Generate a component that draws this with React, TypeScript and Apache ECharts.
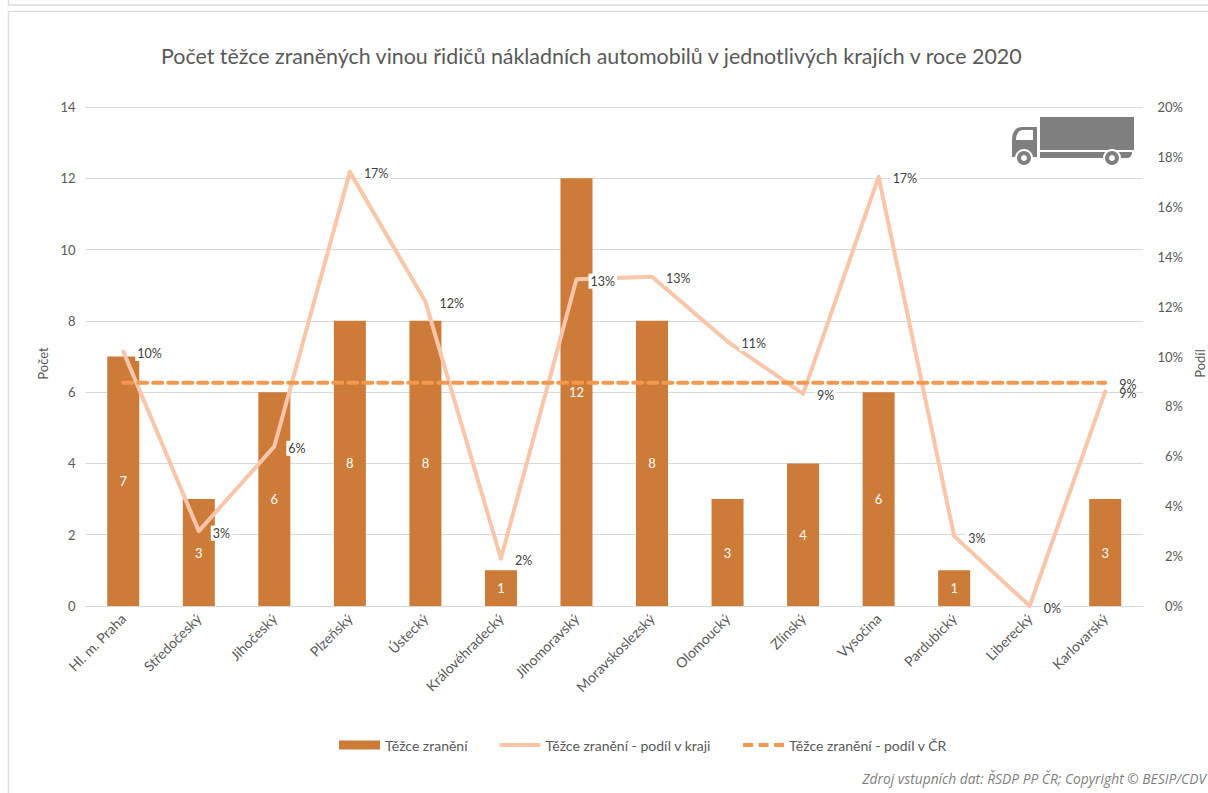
import React, { useEffect, useRef } from "react";
import * as echarts from "echarts";

const titleText = "Počet těžce zraněných vinou řidičů nákladních automobilů v jednotlivých krajích v roce 2020";
const sourceText = "Zdroj vstupních dat: ŘSDP PP ČR; Copyright © BESIP/CDV";
const categories = ["Hl. m. Praha", "Středočeský", "Jihočeský", "Plzeňský", "Ústecký", "Královéhradecký", "Jihomoravský", "Moravskoslezský", "Olomoucký", "Zlínský", "Vysočina", "Pardubický", "Liberecký", "Karlovarský"];
const injuries = [7, 3, 6, 8, 8, 1, 12, 8, 3, 4, 6, 1, 0, 3];
const regionShare = [10.2, 3.0, 6.4, 17.4, 12.2, 1.9, 13.1, 13.2, 10.6, 8.5, 17.2, 2.8, 0, 8.6];
const nationalShare = [8.95, 8.95, 8.95, 8.95, 8.95, 8.95, 8.95, 8.95, 8.95, 8.95, 8.95, 8.95, 8.95, 8.95];
const seriesNames = ["Těžce zranění", "Těžce zranění - podíl v kraji", "Těžce zranění - podíl v ČR"];

const FONT = "Lato";
const truckPath =
  "M28 0H122V33H28Z M0 38V24C0 16 3 10 10 10H25V40H0Z M4 23H21V13H11C7 13 4 17 4 23Z " +
  "M28 35H100V41H28Z M106 35H120C120 39 118 41 114 41H106Z";
echarts.graphic.registerShape("truckIcon", echarts.graphic.extendPath(truckPath, {}) as any);

const solidIcon = "path://M0 0L0.01 0ZM41 9L41.01 9ZM0 2.5H41V6.5H0Z";
const dashedIcon = "path://M0 0L0.01 0ZM41 9L41.01 9ZM0 2.5H10V6.5H0ZM15.5 2.5H25.5V6.5H15.5ZM31 2.5H41V6.5H31Z";

export default function App() {
  const ref = useRef<HTMLDivElement>(null);
  useEffect(() => {
    const chart = echarts.init(ref.current!, undefined, { renderer: "svg" });
    const axisText = { color: "#595959", fontFamily: FONT, fontSize: 13 };
    const wheel = (cx: number) => [
      { type: "circle", shape: { cx, cy: 41, r: 9 }, style: { fill: "#fff" } },
      { type: "circle", shape: { cx, cy: 41, r: 7 }, style: { fill: "#7F7F7F" } },
      { type: "circle", shape: { cx, cy: 41, r: 3 }, style: { fill: "#fff" } },
    ];
    chart.setOption({
      animation: false,
      backgroundColor: "#fff",
      textStyle: { fontFamily: FONT },
      title: {
        text: titleText,
        left: 156,
        top: 40,
        textStyle: { fontFamily: FONT, fontSize: 21.4, fontWeight: "normal", color: "#595959" },
      },
      legend: {
        left: 334,
        top: 733,
        itemWidth: 41,
        itemHeight: 9,
        itemGap: 32,
        itemStyle: { borderWidth: 0 },
        textStyle: { fontFamily: FONT, fontSize: 14, color: "#595959" },
        data: [
          { name: seriesNames[0], icon: "rect" },
          { name: seriesNames[1], icon: solidIcon },
          { name: seriesNames[2], icon: dashedIcon },
        ],
      },
      grid: { left: 85.5, right: 65, top: 107, bottom: 187, outerBoundsMode: "none" },
      xAxis: {
        type: "category",
        data: categories,
        axisTick: { show: false },
        axisLine: { lineStyle: { color: "#D9D9D9" } },
        axisLabel: { ...axisText, rotate: 45, fontSize: 14, margin: 10, interval: 0 },
      },
      yAxis: [
        {
          type: "value",
          min: 0,
          max: 14,
          interval: 2,
          name: "Počet",
          nameLocation: "middle",
          nameGap: 36,
          nameTextStyle: { ...axisText, padding: [0, 14, 0, 0] },
          axisLine: { show: false },
          axisTick: { show: false },
          axisLabel: { ...axisText, margin: 10 },
          splitLine: { lineStyle: { color: "#D9D9D9" } },
        },
        {
          type: "value",
          min: 0,
          max: 20,
          interval: 2,
          name: "Podíl",
          nameLocation: "middle",
          nameGap: 49,
          nameTextStyle: { ...axisText, padding: [0, 14, 0, 0] },
          axisLine: { show: false },
          axisTick: { show: false },
          axisLabel: { ...axisText, margin: 40, align: "right", formatter: "{value}%" },
          splitLine: { show: false },
        },
      ],
      series: [
        {
          name: seriesNames[0],
          type: "bar",
          data: injuries,
          barWidth: 32,
          itemStyle: { color: "#CD7B38" },
          label: {
            show: true,
            position: "inside",
            color: "#fff",
            fontFamily: FONT,
            fontSize: 13,
            formatter: (p: any) => (p.value > 0 ? String(p.value) : ""),
          },
        },
        {
          name: seriesNames[1],
          type: "line",
          yAxisIndex: 1,
          data: regionShare.map((value, i) =>
            i === regionShare.length - 1 ? { value, label: { backgroundColor: "transparent" } } : value
          ),
          showSymbol: true,
          symbol: "circle",
          symbolSize: 2,
          lineStyle: { color: "#F9C6A9", width: 4, cap: "round", join: "round" },
          itemStyle: { color: "#F9C6A9" },
          label: {
            show: true,
            position: "right",
            distance: 11,
            offset: [0, 2],
            formatter: (p: any) => Math.round(p.value) + "%",
            color: "#404040",
            fontFamily: FONT,
            fontSize: 12.5,
            backgroundColor: "#fff",
            padding: [1, 2],
          },
        },
        {
          name: seriesNames[2],
          type: "line",
          yAxisIndex: 1,
          data: nationalShare,
          showSymbol: false,
          symbol: "none",
          lineStyle: { color: "#F4974F", width: 4, type: [9, 6], cap: "round" },
          itemStyle: { color: "#F4974F" },
          endLabel: {
            show: true,
            distance: 14,
            offset: [0, 2],
            formatter: (p: any) => Math.round(p.value) + "%",
            color: "#404040",
            fontFamily: FONT,
            fontSize: 12.5,
          },
        },
      ],
      graphic: [
        { type: "polyline", silent: true, shape: { points: [[8.5, 0], [8.5, 5], [1208, 5]] }, style: { fill: "none", stroke: "#DDDDDD", lineWidth: 1.5 } },
        { type: "polyline", silent: true, shape: { points: [[8.5, 793], [8.5, 11.5], [1208, 11.5]] }, style: { fill: "none", stroke: "#DDDDDD", lineWidth: 1.5 } },
        {
          type: "group",
          x: 1012,
          y: 117,
          silent: true,
          children: [
            { type: "truckIcon", style: { fill: "#7F7F7F" } },
            ...wheel(12),
            ...wheel(100),
          ],
        },
        {
          type: "text",
          right: 2,
          top: 771,
          style: { text: sourceText, fontFamily: "Open Sans", fontStyle: "italic", fontSize: 13.8, fill: "#7F7F7F" },
        },
      ],
    });
    return () => chart.dispose();
  }, []);
  return <div ref={ref} style={{ position: "fixed", left: 0, top: 0, width: 1208, height: 793 }} />;
}
